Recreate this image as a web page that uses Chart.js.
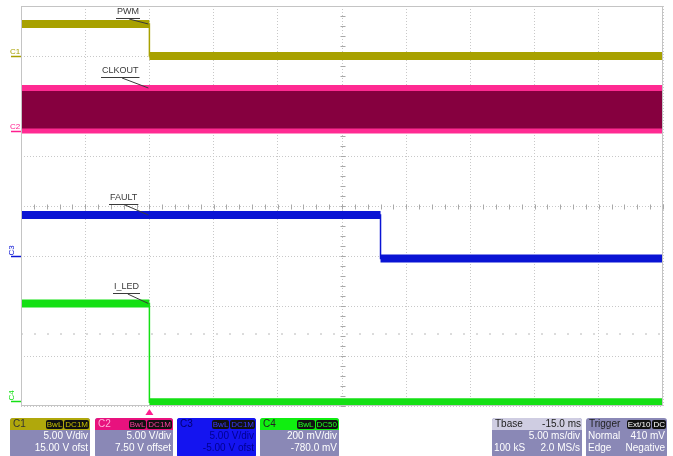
<!DOCTYPE html>
<html><head><meta charset="utf-8">
<script src="https://cdn.jsdelivr.net/npm/chart.js@4.4.1/dist/chart.umd.min.js"></script>
<style>
html,body{margin:0;padding:0;background:#fff;}
#wrap{position:relative;width:673px;height:456px;overflow:hidden;font-family:"Liberation Sans",Arial,sans-serif;}
#c{position:absolute;left:0;top:0;}
.box{position:absolute;top:418px;height:40px;border-radius:3px;background:#8a88b6;overflow:hidden;}
.hd{display:flex;align-items:center;height:12px;font-size:10px;line-height:12px;padding:0 1px 0 3px;}
.hd .nm{flex:1;}
.bd{background:#111;font-size:8px;line-height:9px;height:9px;padding:0 1px;border-radius:2px;margin-left:1px;}
.row{font-size:10px;line-height:12px;height:12px;color:#fff;padding:0 2px;display:flex;justify-content:space-between;}
.row span:only-child{margin-left:auto;}
</style></head>
<body><div id="wrap"><canvas id="c" width="673" height="456"></canvas>
<div class="box" style="left:10px;width:80px;">
 <div class="hd" style="background:#b0a80c;color:#333;"><span class="nm">C1</span><span class="bd" style="color:#c8c000">BwL</span><span class="bd" style="color:#c8c000">DC1M</span></div>
 <div class="row"><span>5.00 V/div</span></div><div class="row"><span>15.00 V ofst</span></div></div>
<div class="box" style="left:95px;width:78px;">
 <div class="hd" style="background:#e8127e;color:#ffb0d8;"><span class="nm">C2</span><span class="bd" style="color:#ff3d9e">BwL</span><span class="bd" style="color:#ff3d9e">DC1M</span></div>
 <div class="row"><span>5.00 V/div</span></div><div class="row"><span>7.50 V offset</span></div></div>
<div class="box" style="left:177px;width:79px;background:#1414f0;">
 <div class="hd" style="background:#1414f0;color:#000070;"><span class="nm">C3</span><span class="bd" style="color:#3a3aff">BwL</span><span class="bd" style="color:#3a3aff">DC1M</span></div>
 <div class="row" style="color:#000090"><span>5.00 V/div</span></div><div class="row" style="color:#000090"><span>-5.00 V ofst</span></div></div>
<div class="box" style="left:260px;width:79px;">
 <div class="hd" style="background:#10ee10;color:#222;"><span class="nm">C4</span><span class="bd" style="color:#20ff20">BwL</span><span class="bd" style="color:#20ff20">DC50</span></div>
 <div class="row"><span>200 mV/div</span></div><div class="row"><span>-780.0 mV</span></div></div>
<div class="box" style="left:492px;width:90px;">
 <div class="hd" style="background:#cfcde2;color:#222;justify-content:space-between;"><span>Tbase</span><span>-15.0 ms</span></div>
 <div class="row"><span>5.00 ms/div</span></div><div class="row"><span>100 kS</span><span>2.0 MS/s</span></div></div>
<div class="box" style="left:586px;width:81px;">
 <div class="hd" style="color:#222;"><span class="nm">Trigger</span><span class="bd" style="color:#fff">Ext/10</span><span class="bd" style="color:#fff">DC</span></div>
 <div class="row"><span>Normal</span><span>410 mV</span></div><div class="row"><span>Edge</span><span>Negative</span></div></div>
</div>
<script>
// ---- data (time in ms, values in channel units) ----
const pwmTime = [-10, 0, 0, 40];
const pwmVolts = [3.2, 3.2, 0, 0];
const clkTime = [-10, 40];
const clkHighVolts = [4.3, 4.3];
const clkLowVolts = [0, 0];
const faultTime = [-10, 18, 18, 40];
const faultVolts = [4.1, 4.1, -0.25, -0.25];
const iledTime = [-10, 0, 0, 40];
const iledMilliVolts = [390, 390, -5, -5];
// channel settings as shown on the scope
const chNames = ['C1', 'C2', 'C3', 'C4'];
const chPerDiv = [5, 5, 5, 200];
const chOffset = [15, 7.5, -5, -780];
const traceNames = ['PWM', 'CLKOUT', 'FAULT', 'I_LED'];
const triggerLevelDiv = -2.56;
const timeMin = -10, timeMax = 40;

const colors = ['#a8a100', '#ff1f8f', '#0a14d4', '#14e014'];

function toDiv(ch, v){ return (v + chOffset[ch]) / chPerDiv[ch]; }
function pts(ch, t, v){ return t.map((x,i)=>({x:x, y:toDiv(ch, v[i])})); }
function flats(ch, t, v){
  const out=[];
  for(let i=0;i<t.length;i++){
    if(i>0 && t[i]===t[i-1]) out.push({x:t[i], y:null});
    out.push({x:t[i], y:toDiv(ch, v[i])});
  }
  return out;
}
const base = {pointRadius:0, tension:0, spanGaps:false, borderCapStyle:'butt'};
const datasets = [
  Object.assign({label:'trig', data:[{x:timeMin,y:triggerLevelDiv},{x:timeMax,y:triggerLevelDiv}], borderColor:'#b8b8b8', borderWidth:1, borderDash:[2,11]}, base),
  Object.assign({label:'clkLow', data:pts(1, clkTime, clkLowVolts), borderColor:'#ff2a92', borderWidth:5}, base),
  Object.assign({label:'clkHigh', data:pts(1, clkTime, clkHighVolts), borderColor:'#ff2a92', borderWidth:6, fill:'-1', backgroundColor:'#86003f'}, base),
  Object.assign({label:'PWM', data:flats(0, pwmTime, pwmVolts), borderColor:colors[0], borderWidth:8}, base),
  Object.assign({label:'PWMedge', data:pts(0, pwmTime, pwmVolts), borderColor:colors[0], borderWidth:1.5}, base),
  Object.assign({label:'FAULT', data:flats(2, faultTime, faultVolts), borderColor:colors[2], borderWidth:8}, base),
  Object.assign({label:'FAULTedge', data:pts(2, faultTime, faultVolts), borderColor:colors[2], borderWidth:1.5}, base),
  Object.assign({label:'I_LED', data:flats(3, iledTime, iledMilliVolts), borderColor:colors[3], borderWidth:8}, base),
  Object.assign({label:'I_LEDedge', data:pts(3, iledTime, iledMilliVolts), borderColor:colors[3], borderWidth:1.5}, base)
];

const scopeDecor = {
  id:'scopeDecor',
  beforeDatasetsDraw(chart){
    const {ctx, chartArea:a, scales:{x,y}} = chart;
    ctx.save();
    ctx.strokeStyle='#a8a8a8'; ctx.lineWidth=1;
    const cx = Math.round(x.getPixelForValue((timeMin+timeMax)/2))+0.5;
    const cy = Math.round(y.getPixelForValue(0))+0.5;
    for(let v=-4; v<=4.001; v+=0.2){
      const py=Math.round(y.getPixelForValue(v))+0.5;
      ctx.beginPath(); ctx.moveTo(cx-2,py); ctx.lineTo(cx+3,py); ctx.stroke();
    }
    for(let t=timeMin; t<=timeMax+0.001; t+=1){
      const px=Math.round(x.getPixelForValue(t))+0.5;
      ctx.beginPath(); ctx.moveTo(px,cy-2); ctx.lineTo(px,cy+3); ctx.stroke();
    }
    ctx.restore();
  },
  afterDraw(chart){
    const {ctx, chartArea:a, scales:{x,y}} = chart;
    ctx.save();
    ctx.strokeStyle='#c4c4c4'; ctx.lineWidth=1;
    ctx.strokeRect(a.left+0.5, a.top+0.5, a.right-a.left-1, a.bottom-a.top-1);
    // channel ground markers
    ctx.font='8px "Liberation Sans", Arial, sans-serif';
    chNames.forEach((n,i)=>{
      const py = Math.round(y.getPixelForValue(toDiv(i,0)))+0.5;
      ctx.strokeStyle=colors[i]; ctx.fillStyle=colors[i]; ctx.lineWidth=1.5;
      ctx.beginPath(); ctx.moveTo(a.left-10,py); ctx.lineTo(a.left,py); ctx.stroke();
      if(i<2){ ctx.textAlign='left'; ctx.textBaseline='bottom'; ctx.fillText(n, a.left-11, py-1); }
      else { ctx.save(); ctx.translate(a.left-13, py-1); ctx.rotate(-Math.PI/2); ctx.textAlign='left'; ctx.textBaseline='top'; ctx.fillText(n,0,0); ctx.restore(); }
    });
    // trace labels with leaders
    const anchors = [
      [0, pwmTime[1], pwmVolts[1], 117, 12],
      [1, clkTime[0]+10, clkHighVolts[0], 102, 71],
      [2, 0, faultVolts[0], 110, 198],
      [3, iledTime[1], iledMilliVolts[1], 114, 287]
    ];
    ctx.font='9px "Liberation Sans", Arial, sans-serif';
    anchors.forEach(([ch,t,v,lx,ly],i)=>{
      const tx = x.getPixelForValue(t), ty = y.getPixelForValue(toDiv(ch,v));
      const w = ctx.measureText(traceNames[i]).width;
      ctx.fillStyle='#3a3a3a'; ctx.textAlign='left'; ctx.textBaseline='middle';
      ctx.fillText(traceNames[i], lx, ly);
      ctx.strokeStyle='#3a3a3a'; ctx.lineWidth=1;
      ctx.beginPath(); ctx.moveTo(lx-1, ly+6.5); ctx.lineTo(lx+w+1, ly+6.5); ctx.stroke();
      ctx.beginPath(); ctx.moveTo(lx+w*0.55, ly+7); ctx.lineTo(tx-1, ty); ctx.stroke();
    });
    // trigger marker
    const px = x.getPixelForValue(0);
    ctx.fillStyle='#ff1f8f';
    ctx.beginPath(); ctx.moveTo(px-4, a.bottom+9); ctx.lineTo(px+4, a.bottom+9); ctx.lineTo(px, a.bottom+3); ctx.closePath(); ctx.fill();
    ctx.restore();
  }
};

new Chart(document.getElementById('c'), {
  type:'line',
  data:{datasets},
  options:{
    responsive:false, animation:false, devicePixelRatio:1,
    layout:{padding:{left:21, right:10, top:6, bottom:50}},
    plugins:{legend:{display:false}, tooltip:{enabled:false}},
    scales:{
      x:{type:'linear', min:timeMin, max:timeMax, ticks:{display:false, stepSize:5}, grid:{color:'#c8c8c8', drawTicks:false}, border:{display:false, dash:[1,2]}},
      y:{type:'linear', min:-4, max:4, ticks:{display:false, stepSize:1}, grid:{color:'#c8c8c8', drawTicks:false}, border:{display:false, dash:[1,2]}}
    }
  },
  plugins:[scopeDecor]
});
</script></body></html>
